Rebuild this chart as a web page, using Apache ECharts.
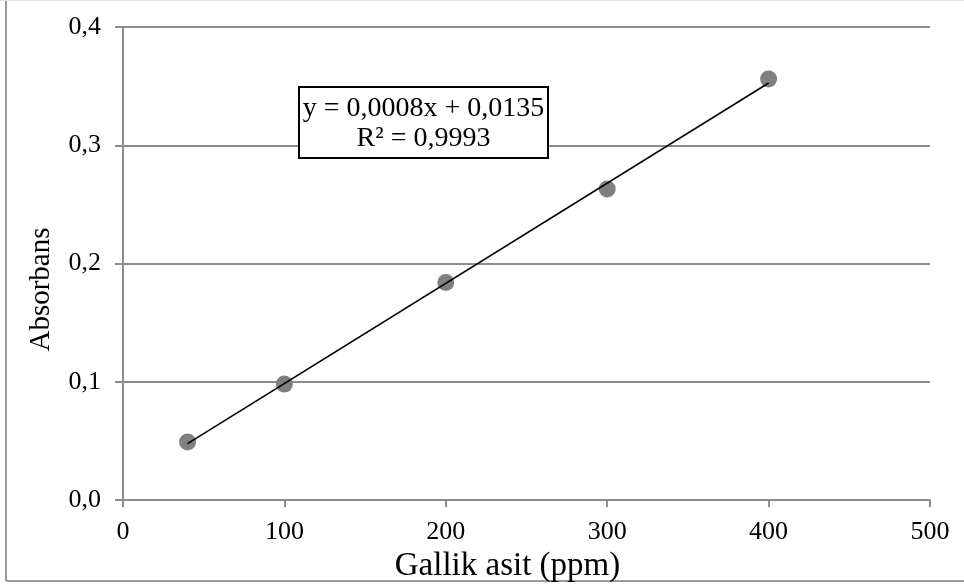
<!DOCTYPE html>
<html>
<head>
<meta charset="utf-8">
<script src="https://cdn.jsdelivr.net/npm/echarts@6/dist/echarts.min.js"></script>
<style>
  html, body { margin: 0; padding: 0; background: #fff; }
  #chart { width: 964px; height: 585px; }
</style>
</head>
<body>
<div id="chart"></div>
<script>
// Gallic acid calibration: concentration (ppm) vs absorbance
const concentration = [40, 100, 200, 300, 400];
const absorbance = [0.049, 0.098, 0.184, 0.263, 0.356];
const xTicks = [0, 100, 200, 300, 400, 500];
const yTicks = [0, 0.1, 0.2, 0.3, 0.4];
const equationText = 'y = 0,0008x + 0,0135';
const rSquaredText = 'R² = 0,9993';

// Least-squares linear fit over the measured points
function linearFit(xs, ys) {
  const n = xs.length;
  const mx = xs.reduce((a, b) => a + b, 0) / n;
  const my = ys.reduce((a, b) => a + b, 0) / n;
  let sxy = 0, sxx = 0;
  for (let i = 0; i < n; i++) {
    sxy += (xs[i] - mx) * (ys[i] - my);
    sxx += (xs[i] - mx) * (xs[i] - mx);
  }
  const slope = sxy / sxx;
  return { slope, intercept: my - slope * mx };
}
const fit = linearFit(concentration, absorbance);
const xMin = Math.min(...concentration), xMax = Math.max(...concentration);
const trend = [
  [xMin, fit.intercept + fit.slope * xMin],
  [xMax, fit.intercept + fit.slope * xMax]
];

const serif = '"Liberation Serif", "DejaVu Serif", serif';
const axisGray = '#8c8c8c';

const chart = echarts.init(document.getElementById('chart'), null, { renderer: 'canvas' });
chart.setOption({
  animation: false,
  backgroundColor: '#fff',
  grid: { left: 123, right: 34, top: 27, bottom: 85, containLabel: false, outerBoundsMode: 'none' },
  xAxis: {
    type: 'value',
    min: xTicks[0], max: xTicks[xTicks.length - 1], interval: 100,
    name: 'Gallik asit (ppm)',
    nameLocation: 'middle', nameGap: 45,
    nameTextStyle: { fontFamily: serif, fontSize: 33, color: '#000', padding: [0, 38, 0, 0] },
    axisLine: { show: true, onZero: false, lineStyle: { color: axisGray, width: 2 } },
    axisTick: { show: true, length: 7, lineStyle: { color: axisGray, width: 2 } },
    axisLabel: { fontFamily: serif, fontSize: 26, color: '#000', margin: 19 },
    splitLine: { show: false }
  },
  yAxis: {
    type: 'value',
    min: yTicks[0], max: yTicks[yTicks.length - 1], interval: 0.1,
    name: 'Absorbans',
    nameLocation: 'middle', nameGap: 67,
    nameTextStyle: { fontFamily: serif, fontSize: 29, color: '#000', padding: [0, 52, 0, 0] },
    axisLine: { show: true, onZero: false, lineStyle: { color: axisGray, width: 2 } },
    axisTick: { show: true, length: 8, lineStyle: { color: axisGray, width: 2 } },
    axisLabel: {
      fontFamily: serif, fontSize: 26, color: '#000', margin: 22,
      formatter: v => v.toFixed(1).replace('.', ',')
    },
    splitLine: { show: true, lineStyle: { color: axisGray, width: 2 } }
  },
  series: [
    {
      type: 'line',
      data: trend,
      symbol: 'none',
      lineStyle: { color: '#000', width: 1.6 },
      z: 3
    },
    {
      type: 'scatter',
      data: concentration.map((x, i) => [x, absorbance[i]]),
      symbol: 'circle',
      symbolSize: 17,
      itemStyle: { color: '#808080', opacity: 1 },
      z: 2
    }
  ],
  graphic: [
    // chart frame
    { type: 'line', shape: { x1: 6, y1: 1, x2: 6, y2: 581 }, style: { stroke: '#9a9a9a', lineWidth: 2 } },
    { type: 'line', shape: { x1: 6, y1: 581, x2: 964, y2: 581 }, style: { stroke: '#9a9a9a', lineWidth: 2 } },
    { type: 'line', shape: { x1: 0, y1: 0.5, x2: 964, y2: 0.5 }, style: { stroke: '#e6e6e6', lineWidth: 1 } },
    // trendline equation box
    {
      type: 'rect',
      shape: { x: 299, y: 87, width: 249, height: 71 },
      style: { fill: '#fff', stroke: '#000', lineWidth: 2 },
      z: 10
    },
    {
      type: 'text',
      x: 423.5, y: 109,
      style: { text: equationText, font: '28px ' + serif, fill: '#000', align: 'center', verticalAlign: 'middle' },
      z: 11
    },
    {
      type: 'text',
      x: 423.5, y: 139,
      style: { text: rSquaredText, font: '28px ' + serif, fill: '#000', align: 'center', verticalAlign: 'middle' },
      z: 11
    }
  ]
});
</script>
</body>
</html>
